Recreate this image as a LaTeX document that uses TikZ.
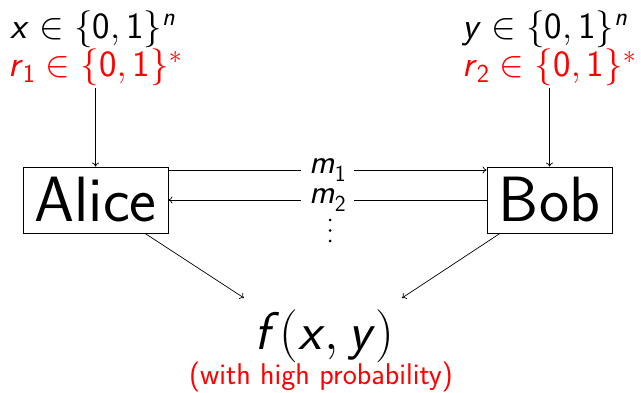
\RequirePackage{fix-cm}
\documentclass[tikz,border=0pt]{standalone}
\usepackage{amsmath}
\usetikzlibrary{arrows.meta}
\newcommand\sv[1]{\textsf{\textit{#1}}}
\newcommand\sd[1]{\textsf{#1}}
\newcommand\msgtext[1]{\fontsize{34}{34}\selectfont\itshape m\upshape\raisebox{-0.22em}{\fontsize{23}{23}\selectfont #1}}
\begin{document}
\begin{tikzpicture}[x=1pt,y=-1pt,
  every node/.style={font=\sffamily},
  box/.style={draw, line width=0.8pt, inner sep=0pt, minimum height=66pt, font=\sffamily\fontsize{64}{64}\selectfont},
  conn/.style={line width=0.7pt, -{To[length=4pt,width=7pt]}},
  inp/.style={anchor=base west, inner sep=0pt, font=\sffamily\fontsize{37}{40}\selectfont},
  msg/.style={fill=white, inner xsep=8pt, inner ysep=0pt},
  dot/.style={circle, fill, inner sep=0pt, minimum size=3pt}
]
\useasboundingbox (0,0) rectangle (641,393);
% inputs
\node[inp] (xin) at (10,39) {$\sv{x} \in \{\sd{0},\sd{1}\}^{\sv{n}}$};
\node[inp, text=red] (rin1) at (8,77) {$\sv{r}_{\sd{1}} \in \{\sd{0},\sd{1}\}^*$};
\node[inp] (yin) at (462,39) {$\sv{y} \in \{\sd{0},\sd{1}\}^{\sv{n}}$};
\node[inp, text=red] (rin2) at (462,77) {$\sv{r}_{\sd{2}} \in \{\sd{0},\sd{1}\}^*$};
% parties
\node[box, minimum width=145pt] (alice) at (95.5,200) {Alice};
\node[box, minimum width=125pt] (bob) at (549.5,200) {Bob};
% coordinates
\coordinate (ina) at (95.5,88);
\coordinate (inb) at (549.5,88);
\coordinate (m1y) at (0,170);
\coordinate (da) at (145,0);
\coordinate (db) at (500,0);
\coordinate (fa) at (244,298);
\coordinate (fb) at (402,298);
% input arrows
\draw[conn] (ina) -- (alice.north -| ina);
\draw[conn] (inb) -- (bob.north -| inb);
% messages
\draw[conn] (alice.east |- m1y) -- node[msg] (m1) {\msgtext{1}} (bob.west |- m1y);
\draw[conn] (bob.west) -- node[msg] (m2) {\msgtext{2}} (alice.east);
\node[dot] (d1) at (330,220) {};
\node[dot] (d2) at (330,230.5) {};
\node[dot] (d3) at (330,241) {};
% output
\draw[conn] (alice.south -| da) -- (fa);
\draw[conn] (bob.south -| db) -- (fb);
\node[font=\sffamily\fontsize{53}{53}\selectfont, inner sep=0pt, anchor=base] (out) at (324,350) {$\sv{f}(\sv{x},\sv{y})$};
\node[text=red, font=\sffamily\fontsize{30}{30}\selectfont, inner sep=0pt] (prob) at (321,377.5) {(with high probability)};
\end{tikzpicture}
\end{document}
